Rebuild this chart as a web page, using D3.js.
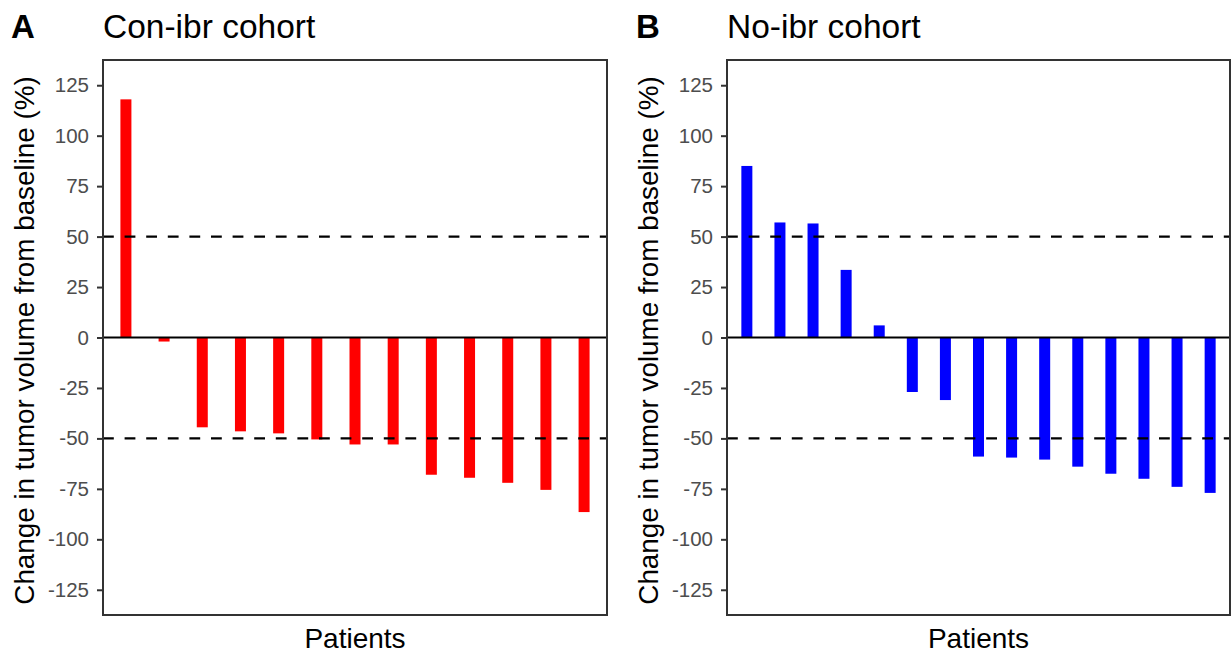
<!DOCTYPE html>
<html>
<head>
<meta charset="utf-8">
<script src="https://cdnjs.cloudflare.com/ajax/libs/d3/7.8.5/d3.min.js"></script>
<style>
  body { margin: 0; background: #fff; }
  text { font-family: "Liberation Sans", Arial, Helvetica, sans-serif; }
</style>
</head>
<body>
<script>
// data (change in tumour volume, %)
const patientsA = ['A1','A2','A3','A4','A5','A6','A7','A8','A9','A10','A11','A12','A13']
const changeA = [118, -2, -44.5, -46.5, -47.5, -50.5, -53, -53, -68, -69.5, -72, -75.5, -86.5]

const patientsB = ['B1','B2','B3','B4','B5','B6','B7','B8','B9','B10','B11','B12','B13','B14','B15']
const changeB = [85, 57, 56.5, 33.5, 6, -27, -31, -59, -59.5, -60.5, -64, -67.5, -70, -74, -77]

const yTicks = [-125, -100, -75, -50, -25, 0, 25, 50, 75, 100, 125]
const refLines = [50, -50]

const W = 1231, H = 654

const svg = d3.select('body')
  .append('svg')
  .attr('width', W)
  .attr('height', H)

let drawPanel = (opt) => {
  let top = 60, bottom = 615

  let x = d3.scalePoint()
    .domain(opt.patients)
    .range([opt.left, opt.right])
    .padding(0.6)

  let y = d3.scaleLinear()
    .domain([-137.5, 137.5])
    .range([bottom, top])

  let g = svg.append('g')

  // bars
  let barW = 11
  g.selectAll('rect.bar')
    .data(opt.values)
    .enter()
    .append('rect')
    .attr('class', 'bar')
    .attr('x', (d, i) => x(opt.patients[i]) - barW / 2)
    .attr('y', d => y(Math.max(0, d)))
    .attr('width', barW)
    .attr('height', d => Math.abs(y(d) - y(0)))
    .attr('fill', opt.color)

  // dashed reference lines
  g.selectAll('line.ref')
    .data(refLines)
    .enter()
    .append('line')
    .attr('x1', opt.left)
    .attr('x2', opt.right)
    .attr('y1', d => y(d))
    .attr('y2', d => y(d))
    .attr('stroke', '#000')
    .attr('stroke-width', 2.4)
    .attr('stroke-dasharray', '10.8,10.8')

  // zero line
  g.append('line')
    .attr('x1', opt.left)
    .attr('x2', opt.right)
    .attr('y1', y(0))
    .attr('y2', y(0))
    .attr('stroke', '#000')
    .attr('stroke-width', 2)

  // y axis (plain hyphen for negatives, like the original)
  let axis = g.append('g')
    .attr('transform', `translate(${opt.left},0)`)
    .call(d3.axisLeft(y).tickValues(yTicks).tickSize(6).tickPadding(8).tickFormat(d => String(d)))
  axis.select('.domain').remove()
  axis.selectAll('line').attr('stroke', '#333').attr('stroke-width', 2)
  axis.selectAll('text')
    .attr('fill', '#4d4d4d')
    .style('font-size', '20.5px')

  // panel border
  g.append('rect')
    .attr('x', opt.left)
    .attr('y', top)
    .attr('width', opt.right - opt.left)
    .attr('height', bottom - top)
    .attr('fill', 'none')
    .attr('stroke', '#333')
    .attr('stroke-width', 2)

  // titles
  g.append('text')
    .attr('x', opt.tagX)
    .attr('y', 38)
    .style('font-size', '33px')
    .style('font-weight', 'bold')
    .text(opt.tag)

  g.append('text')
    .attr('x', opt.left)
    .attr('y', 38)
    .style('font-size', '33.5px')
    .text(opt.title)

  g.append('text')
    .attr('x', (opt.left + opt.right) / 2)
    .attr('y', 648)
    .attr('text-anchor', 'middle')
    .style('font-size', '28px')
    .text('Patients')

  g.append('text')
    .attr('transform', `translate(${opt.labelX},${(top + bottom) / 2 + 3}) rotate(-90)`)
    .attr('text-anchor', 'middle')
    .style('font-size', '27.8px')
    .text('Change in tumor volume from baseline (%)')
}

drawPanel({ patients: patientsA, values: changeA, color: '#ff0000',
  left: 103, right: 607, tag: 'A', tagX: 11, title: 'Con-ibr cohort', labelX: 34 })

drawPanel({ patients: patientsB, values: changeB, color: '#0000ff',
  left: 727, right: 1230, tag: 'B', tagX: 636, title: 'No-ibr cohort', labelX: 658 })
</script>
</body>
</html>
